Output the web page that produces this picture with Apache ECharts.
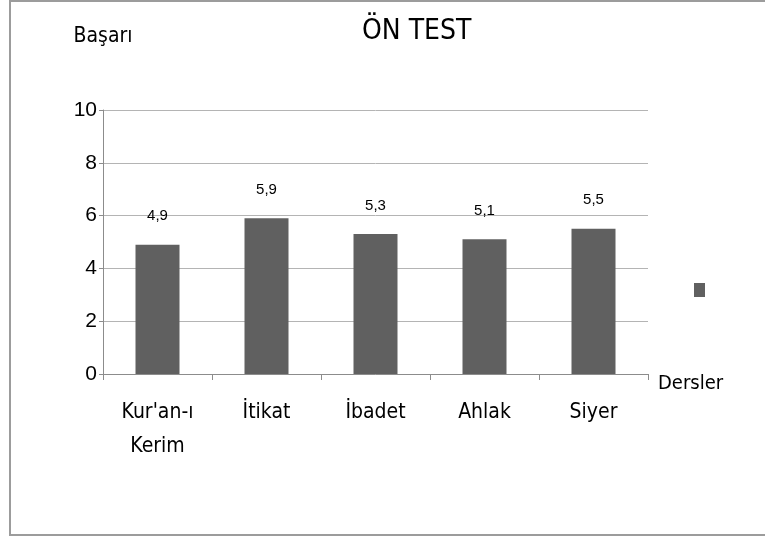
<!DOCTYPE html>
<html>
<head>
<meta charset="utf-8">
<style>
  html, body { margin: 0; padding: 0; background: #fff; }
  #chart { width: 765px; height: 538px; }
</style>
<script src="https://cdn.jsdelivr.net/npm/echarts@6/dist/echarts.min.js"></script>
</head>
<body>
<div id="chart"></div>
<script>
const categories = ["Kur'an-ı\nKerim", 'İtikat', 'İbadet', 'Ahlak', 'Siyer']
const scores = [4.9, 5.9, 5.3, 5.1, 5.5]
const yTicks = { min: 0, max: 10, interval: 2 }

const narrow = "'DejaVu Sans Condensed', 'Liberation Sans Narrow', sans-serif"
const plain = "'Liberation Sans', Arial, sans-serif"

const chart = echarts.init(document.getElementById('chart'))
chart.setOption({
  animation: false,
  title: {
    text: 'ÖN TEST',
    left: 357,
    top: 13,
    textStyle: { fontFamily: narrow, fontSize: 28, fontWeight: 'normal', color: '#000' }
  },
  legend: {
    left: 689,
    top: 278,
    itemWidth: 11,
    itemHeight: 14,
    icon: 'rect',
    formatter: () => '',
    data: ['ÖN TEST']
  },
  graphic: [{
    type: 'rect',
    shape: { x: 10, y: 1, width: 800, height: 534 },
    style: { fill: 'none', stroke: '#9c9c9c', lineWidth: 2 },
    silent: true
  }],
  grid: { left: 103, right: 117, top: 110, bottom: 164 },
  xAxis: {
    type: 'category',
    data: categories,
    name: 'Dersler',
    nameGap: 10,
    nameTextStyle: { fontFamily: narrow, fontSize: 20, color: '#000', verticalAlign: 'top' },
    axisLine: { lineStyle: { color: '#8c8c8c', width: 1 } },
    axisTick: { show: true, length: 6, lineStyle: { color: '#8c8c8c' } },
    axisLabel: { fontFamily: narrow, fontSize: 21, color: '#000', lineHeight: 34, margin: 22, interval: 0 }
  },
  yAxis: {
    type: 'value',
    min: yTicks.min,
    max: yTicks.max,
    interval: yTicks.interval,
    name: 'Başarı',
    nameGap: 73,
    nameTextStyle: { fontFamily: narrow, fontSize: 21, color: '#000', align: 'center', verticalAlign: 'middle' },
    axisLine: { show: true, lineStyle: { color: '#8c8c8c', width: 1 } },
    axisTick: { show: true, length: 4, lineStyle: { color: '#8c8c8c' } },
    axisLabel: { fontFamily: plain, fontSize: 21, color: '#000', margin: 6 },
    splitLine: { lineStyle: { color: '#b4b4b4', width: 1 } }
  },
  series: [{
    name: 'ÖN TEST',
    type: 'bar',
    data: scores,
    barWidth: 44,
    itemStyle: { color: '#606060' },
    label: {
      show: true,
      position: 'top',
      distance: 21,
      fontFamily: plain,
      fontSize: 15,
      color: '#000',
      formatter: (p) => String(p.value).replace('.', ',')
    }
  }]
})
</script>
</body>
</html>
